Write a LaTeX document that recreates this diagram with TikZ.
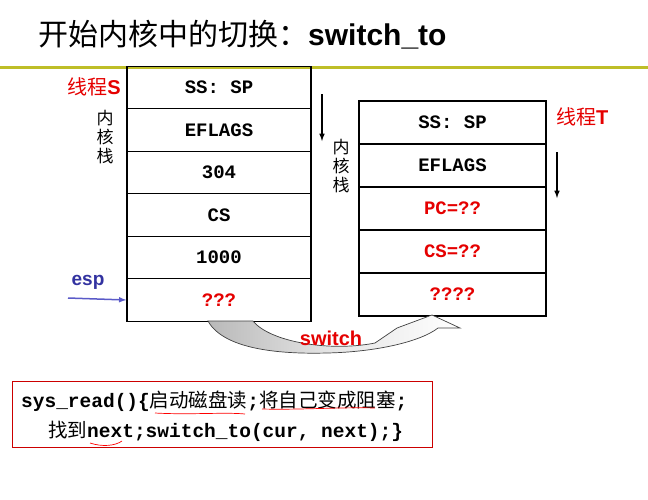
\documentclass[tikz,border=0pt]{standalone}
\usepackage{fontspec}
\setmainfont{Liberation Sans}
\setsansfont{Liberation Sans}
\setmonofont{Liberation Mono}
\newfontfamily\cjk{Noto Sans CJK SC}
\begin{document}
\begin{tikzpicture}[x=1pt,y=-1pt,
  cell/.style={draw,line width=1.3pt,minimum width=184pt,minimum height=42.5pt,font=\ttfamily\bfseries\fontsize{19}{19}\selectfont,inner sep=0pt},
  cellr/.style={cell,minimum width=187pt,minimum height=43pt},
  redtext/.style={text=red!90!black},
  lbl/.style={font=\cjk\fontsize{17}{19}\selectfont,align=center,inner sep=0pt},
  inkline/.style={draw=red,line width=0.7pt}]
\useasboundingbox (0,0) rectangle (648,499);
\node[anchor=west,font=\cjk\fontsize{30}{30}\selectfont,inner sep=0pt] (title) at (38,35) {开始内核中的切换：\sffamily\bfseries switch\_to};
\draw[line width=3pt,color={rgb,255:red,190;green,190;blue,40}] (0,67) -- (648,67);
% left stack
\foreach \i/\t/\c in {0/SS: SP/black,1/EFLAGS/black,2/304/black,3/CS/black,4/1000/black,5/???/red!90!black}
  \node[cell,text=\c] (s\i) at (219,87.5+42.5*\i) {\t};
% right stack
\foreach \i/\t/\c in {0/SS: SP/black,1/EFLAGS/black,2/PC=??/red!90!black,3/CS=??/red!90!black,4/????/red!90!black}
  \node[cellr,text=\c] (t\i) at (452.5,122.5+43*\i) {\t};
\node[lbl,redtext,font=\cjk\fontsize{20}{20}\selectfont,anchor=east] (ls) at (121,87) {线程\sffamily\bfseries S};
\node[lbl,redtext,font=\cjk\fontsize{20}{20}\selectfont,anchor=west] (lt) at (556,117) {线程\sffamily\bfseries T};
\node[lbl] (k1) at (105,137) {内\\核\\栈};
\node[lbl] (k2) at (341,166) {内\\核\\栈};
\coordinate (a1) at (322,94); \coordinate (a2) at (322,141);
\draw[line width=1.5pt,-latex] (a1) -- (a2);
\coordinate (b1) at (557,152); \coordinate (b2) at (557,198);
\draw[line width=1.5pt,-latex] (b1) -- (b2);
\node[font=\sffamily\bfseries\fontsize{19}{19}\selectfont,text={rgb,255:red,50;green,50;blue,160},inner sep=0pt] (esp) at (88,282) {esp};
\coordinate (e1) at (68,298);
\draw[line width=1.5pt,-latex,color={rgb,255:red,90;green,90;blue,200}] (e1) -- (s5.west);
% switch arrow
\path[left color=gray!55,right color=white,middle color=gray!20,draw=gray!50!black,line width=0.7pt]
  (208,321) .. controls (225,352) and (290,354) .. (327,353)
  .. controls (375,352) and (420,342) .. (438,328) -- (460,328) -- (432,315) -- (397,328) -- (375,343)
  .. controls (330,352) and (270,342) .. (253,321) -- cycle;
\node[font=\sffamily\bfseries\fontsize{20}{20}\selectfont,redtext,inner sep=0pt] (sw) at (331,338) {switch};
% code box
\node[draw=red!80!black,line width=1pt,minimum width=420pt,minimum height=66pt,inner sep=0pt] (code) at (222,414) {};
\node[anchor=west,inner sep=0pt,font=\ttfamily\bfseries\fontsize{19.5}{19.5}\selectfont] (c1) at (21,401) {sys\_read()\{{\cjk\mdseries 启动磁盘读};{\cjk\mdseries 将自己变成阻塞};};
\node[anchor=west,inner sep=0pt,font=\ttfamily\bfseries\fontsize{19.5}{19.5}\selectfont] (c2) at (48,431) {{\cjk\mdseries 找到}next;switch\_to(cur, next);\}};
\draw[inkline] (155,413) .. controls (190,415) and (225,412) .. (245,414);
\draw[inkline] (262,409) .. controls (300,410) and (340,407) .. (375,408);
\draw[inkline] (90,443) .. controls (102,447) and (115,446) .. (122,441);
\end{tikzpicture}
\end{document}
